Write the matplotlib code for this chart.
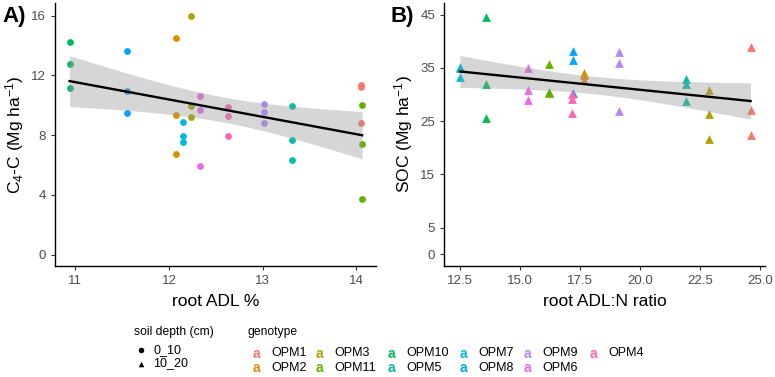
import numpy as np
import matplotlib
matplotlib.use("Agg")
import matplotlib.pyplot as plt

plt.rcParams['font.family'] = ['Liberation Sans', 'DejaVu Sans']
plt.rcParams['mathtext.default'] = 'regular'

# genotype order as in the legend (factor levels)
genotypes = ["OPM1", "OPM2", "OPM3", "OPM11", "OPM10", "OPM5",
             "OPM7", "OPM8", "OPM9", "OPM6", "OPM4"]
colors = ["#F8766D", "#DB8E00", "#AEA200", "#64B200", "#00BD5C", "#00C1A7",
          "#00BADE", "#00A6FF", "#B385FF", "#EF67EB", "#FF63B6"]

# panel A: root ADL % vs C4-C, soil depth 0_10
adl_pct = [14.05, 12.07, 12.23, 14.06, 10.94, 13.31, 12.15, 11.55, 13.01, 12.33, 12.63]
c4c = [[11.32, 11.20, 8.79], [14.53, 9.33, 6.76], [15.96, 9.93, 9.22],
       [10.00, 7.39, 3.71], [14.26, 12.79, 11.16], [9.96, 7.68, 6.34],
       [8.91, 7.95, 7.54], [13.66, 10.94, 9.49], [10.09, 9.53, 8.82],
       [10.60, 9.67, 5.96], [9.91, 9.31, 7.92]]

# panel B: root ADL:N ratio vs SOC, soil depth 10_20
adl_n = [24.60, 17.64, 22.89, 16.19, 13.58, 21.91, 12.49, 17.22, 19.12, 15.31, 17.14]
soc = [[39.0, 27.0, 22.4], [34.0, 33.6, 32.75], [30.9, 26.4, 21.6],
       [35.75, 30.4, 30.3], [44.5, 32.0, 25.6], [33.0, 32.06, 28.7],
       [35.1, 34.9, 33.25], [38.25, 36.4, 30.3], [38.0, 35.9, 26.9],
       [34.9, 30.75, 28.9], [30.1, 29.1, 26.5]]

depth_labels = ["0_10", "10_20"]


def smooth(ax, xs, ys):
    # lm fit with 95% confidence band, like geom_smooth(method = "lm")
    x = np.asarray(xs, float)
    y = np.asarray(ys, float)
    n = len(x)
    b, a = np.polyfit(x, y, 1)
    res = y - (a + b * x)
    s = np.sqrt(np.sum(res ** 2) / (n - 2))
    xg = np.linspace(x.min(), x.max(), 80)
    se = s * np.sqrt(1.0 / n + (xg - x.mean()) ** 2 / np.sum((x - x.mean()) ** 2))
    t = 2.04  # t(0.975, df=31)
    yg = a + b * xg
    ax.fill_between(xg, yg - t * se, yg + t * se, color="#999999", alpha=0.4,
                    linewidth=0, zorder=3)
    ax.plot(xg, yg, color="black", lw=1.7, zorder=4)


def style(ax):
    for side in ["top", "right"]:
        ax.spines[side].set_visible(False)
    for side in ["left", "bottom"]:
        ax.spines[side].set_linewidth(1.0)
    ax.tick_params(length=3, width=0.8, color="#333333", labelcolor="#4D4D4D",
                   labelsize=9.5)


fig = plt.figure(figsize=(7.75, 3.77), dpi=100)

# ---- panel A
axA = fig.add_axes([0.071, 0.2944, 0.414, 0.698])
allx, ally = [], []
for g, col, xv, yv in zip(genotypes, colors, adl_pct, c4c):
    axA.scatter([xv] * len(yv), yv, s=24, color=col, marker="o",
                linewidths=0, zorder=2)
    allx += [xv] * len(yv)
    ally += yv
smooth(axA, allx, ally)
axA.set_xlim(10.785, 14.207)
axA.set_ylim(-0.76, 16.85)
axA.set_xticks([11, 12, 13, 14])
axA.set_yticks([0, 4, 8, 12, 16])
axA.set_xlabel("root ADL %", fontsize=12.5, labelpad=5)
axA.set_ylabel("C$_4$-C (Mg ha$^{-1}$)", fontsize=12.5, labelpad=4)
style(axA)

# ---- panel B
axB = fig.add_axes([0.573, 0.2944, 0.414, 0.698])
allx, ally = [], []
for g, col, xv, yv in zip(genotypes, colors, adl_n, soc):
    axB.scatter([xv] * len(yv), yv, s=40, color=col, marker="^",
                linewidths=0, zorder=2)
    allx += [xv] * len(yv)
    ally += yv
smooth(axB, allx, ally)
axB.set_xlim(11.83, 25.2)
axB.set_ylim(-2.2, 47.2)
axB.set_xticks([12.5, 15.0, 17.5, 20.0, 22.5, 25.0])
axB.set_xticklabels(["12.5", "15.0", "17.5", "20.0", "22.5", "25.0"])
axB.set_yticks([0, 5, 15, 25, 35, 45])
axB.set_xlabel("root ADL:N ratio", fontsize=12.5, labelpad=5)
axB.set_ylabel("SOC (Mg ha$^{-1}$)", fontsize=12.5, labelpad=4)
style(axB)

fig.text(0.003, 0.955, "A)", fontsize=16, fontweight="bold", va="center")
fig.text(0.504, 0.955, "B)", fontsize=16, fontweight="bold", va="center")

# ---- legends drawn in a pixel overlay
lg = fig.add_axes([0, 0, 1, 1])
lg.set_xlim(0, 775)
lg.set_ylim(377, 0)
lg.axis("off")

lg.text(134, 332, "soil depth (cm)", fontsize=8.7, va="center")
for i, (lab, mk) in enumerate(zip(depth_labels, ["o", "^"])):
    yy = 350 + i * 13.5
    lg.scatter([141], [yy], s=16, marker=mk, color="black", linewidths=0)
    lg.text(153, yy, lab, fontsize=9, va="center")

lg.text(248, 332, "genotype", fontsize=8.7, va="center")
col_x = [256, 319, 391, 463, 527, 593]
for i, (g, col) in enumerate(zip(genotypes, colors)):
    cx = col_x[i // 2]
    yy = 353 + (i % 2) * 15
    lg.text(cx, yy + 0.5, "a", fontsize=10, fontweight="bold", color=col,
            ha="center", va="center")
    lg.text(cx + 15, yy, g, fontsize=9, va="center")

fig.savefig("out.png", dpi=100)
